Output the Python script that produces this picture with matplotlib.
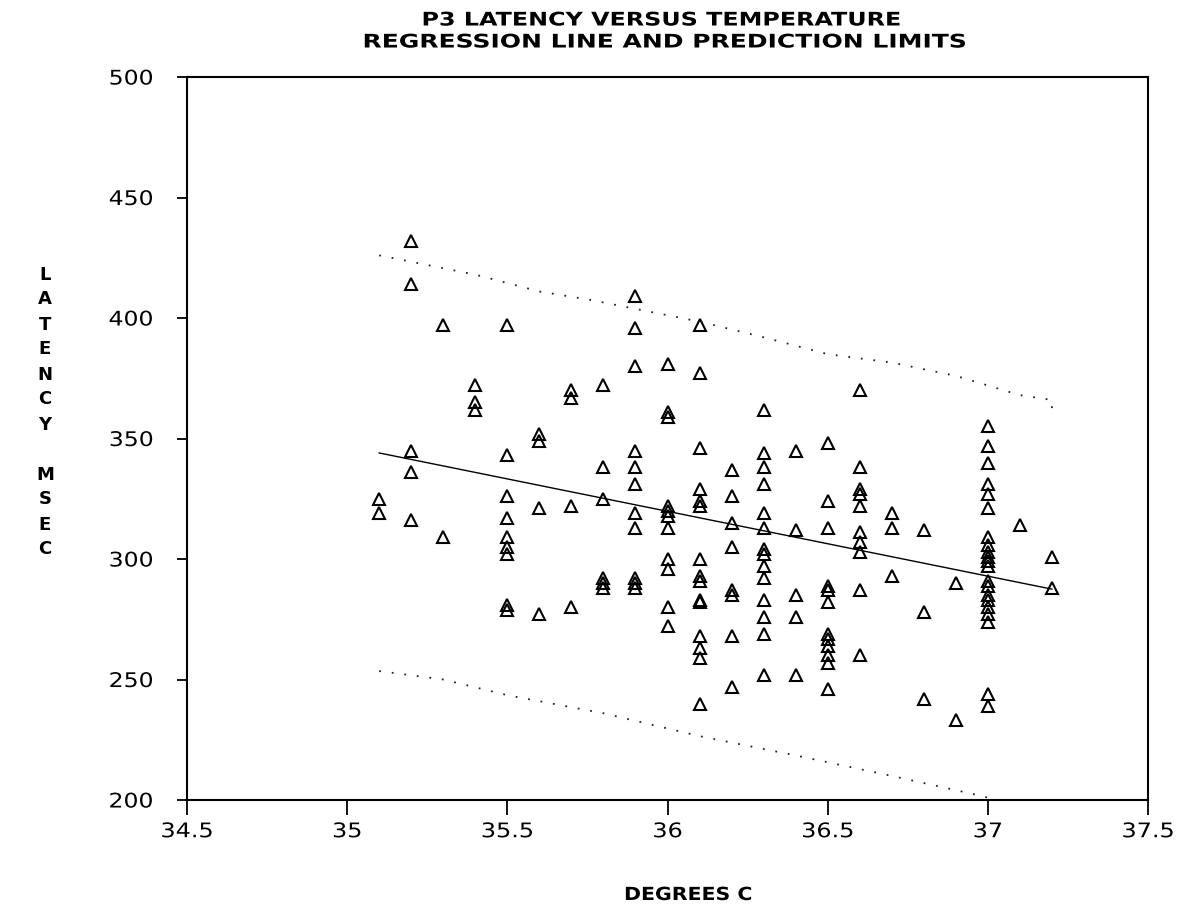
import matplotlib
matplotlib.use("Agg")
import matplotlib.pyplot as plt
from matplotlib.patheffects import AbstractPathEffect
from matplotlib.transforms import Affine2D

# ---- data ----
temps = [35.1, 35.2, 35.3, 35.4, 35.5, 35.6, 35.7, 35.8, 35.9, 36.0, 36.1, 36.2,
         36.3, 36.4, 36.5, 36.6, 36.7, 36.8, 36.9, 37.0, 37.1, 37.2]
latency_35_1 = [325, 319]
latency_35_2 = [432, 414, 345, 336, 316]
latency_35_3 = [397, 309]
latency_35_4 = [372, 365, 362]
latency_35_5 = [397, 343, 326, 317, 309, 305, 302, 281, 279]
latency_35_6 = [352, 349, 321, 277]
latency_35_7 = [370, 367, 322, 280]
latency_35_8 = [372, 338, 325, 292, 290, 288]
latency_35_9 = [409, 396, 380, 345, 338, 331, 319, 313, 292, 290, 288]
latency_36_0 = [381, 361, 359, 322, 320, 318, 313, 300, 296, 280, 272]
latency_36_1 = [397, 377, 346, 329, 324, 322, 300, 293, 291, 283, 282, 268, 263, 259, 240]
latency_36_2 = [337, 326, 315, 305, 287, 285, 268, 247]
latency_36_3 = [362, 344, 338, 331, 319, 313, 304, 302, 297, 292, 283, 276, 269, 252]
latency_36_4 = [345, 312, 285, 276, 252]
latency_36_5 = [348, 324, 313, 289, 287, 282, 269, 267, 264, 260, 257, 246]
latency_36_6 = [370, 338, 329, 327, 322, 311, 307, 303, 287, 260]
latency_36_7 = [319, 313, 293]
latency_36_8 = [312, 278, 242]
latency_36_9 = [290, 233]
latency_37_0 = [355, 347, 340, 331, 327, 321, 309, 306, 303, 301, 299, 297, 291,
                289, 285, 283, 280, 277, 274, 244, 239]
latency_37_1 = [314]
latency_37_2 = [301, 288]

groups = [latency_35_1, latency_35_2, latency_35_3, latency_35_4, latency_35_5,
          latency_35_6, latency_35_7, latency_35_8, latency_35_9, latency_36_0,
          latency_36_1, latency_36_2, latency_36_3, latency_36_4, latency_36_5,
          latency_36_6, latency_36_7, latency_36_8, latency_36_9, latency_37_0,
          latency_37_1, latency_37_2]

reg_x = [35.1, 37.2]
reg_y = [344, 287.5]

upper_x = [35.1, 35.4, 35.6, 35.76, 36.1, 36.3, 36.5, 36.7, 36.9, 37.1, 37.2, 37.2]
upper_y = [426, 418, 411, 407.5, 398.5, 392, 385, 381.5, 376, 368, 366, 361]

lower_x = [35.1, 35.3, 35.5, 35.8, 36.1, 36.4, 36.7, 36.97, 37.0]
lower_y = [253.5, 250, 243.5, 236, 226.5, 218.5, 210, 202, 201]

xticks = [34.5, 35, 35.5, 36, 36.5, 37, 37.5]
xtick_labels = ["34.5", "35", "35.5", "36", "36.5", "37", "37.5"]
yticks = [200, 250, 300, 350, 400, 450, 500]

title_lines = ["P3 LATENCY VERSUS TEMPERATURE", "REGRESSION LINE AND PREDICTION LIMITS"]
xlabel = "DEGREES C"
ylabel = "LATENCY MSEC"


class HStretch(AbstractPathEffect):
    """Widen the glyph outlines horizontally about a fixed display x."""
    def __init__(self, sx, cx):
        super().__init__()
        self.sx = sx
        self.cx = cx

    def draw_path(self, renderer, gc, tpath, affine, rgbFace=None):
        t = affine + Affine2D().translate(-self.cx, 0).scale(self.sx, 1).translate(self.cx, 0)
        renderer.draw_path(gc, tpath, t, rgbFace)


# ---- figure ----
plt.rcParams['font.family'] = ['DejaVu Sans']
W, H = 1188, 913
fig = plt.figure(figsize=(W / 100, H / 100), dpi=100)
ax = fig.add_axes([187 / W, 1 - 800 / H, (1148 - 187) / W, (800 - 77) / H])

xs, ys = [], []
for t, g in zip(temps, groups):
    xs.extend([t] * len(g))
    ys.extend(g)
ax.plot(xs, ys, linestyle='none', marker='^', markersize=8.5,
        markerfacecolor='none', markeredgecolor='black', markeredgewidth=1.5)

ax.plot(reg_x, reg_y, color='black', linewidth=1.0)
ax.plot(upper_x, upper_y, color='#222222', linewidth=1.3, linestyle=(0, (1, 6)))
ax.plot(lower_x, lower_y, color='#222222', linewidth=1.3, linestyle=(0, (1, 6)))

ax.set_xlim(34.5, 37.5)
ax.set_ylim(200, 500)
ax.set_xticks(xticks)
ax.set_xticklabels(xtick_labels)
ax.set_yticks(yticks)
ax.tick_params(axis='x', direction='out', length=11, width=1.3, pad=5, labelsize=14.5)
ax.tick_params(axis='y', direction='out', length=7, width=1.3, pad=17, labelsize=14.5)
for s in ax.spines.values():
    s.set_linewidth(1.5)
    s.set_color('black')

t1 = fig.text(661.5 / W, 1 - 20 / H, title_lines[0], ha='center', va='center',
              fontsize=13.5, fontweight='bold')
t2 = fig.text(665 / W, 1 - 42 / H, title_lines[1], ha='center', va='center',
              fontsize=13.5, fontweight='bold')
xl = fig.text(688 / W, 1 - 895 / H, xlabel, ha='center', va='center',
              fontsize=13, fontweight='bold')

stacked = "\n".join(list("LATENCY")) + "\n\n" + "\n".join(list("MSEC"))
fig.text(45 / W, 1 - 412 / H, stacked, ha='center', va='center', fontsize=13,
         fontweight='bold', linespacing=1.5, multialignment='center')

# widen text to the plotter lettering proportions
fig.canvas.draw()
renderer = fig.canvas.get_renderer()
for txt, target in [(t1, 480), (t2, 605), (xl, 128)]:
    bb = txt.get_window_extent(renderer)
    txt.set_path_effects([HStretch(target / bb.width, (bb.x0 + bb.x1) / 2)])

xlabs = ax.get_xticklabels()
bb_ref = xlabs[-1].get_window_extent(renderer)
sx_x = 53 / bb_ref.width
for lab in xlabs:
    bb = lab.get_window_extent(renderer)
    lab.set_path_effects([HStretch(sx_x, (bb.x0 + bb.x1) / 2)])

ylabs = ax.get_yticklabels()
bb_ref = ylabs[-1].get_window_extent(renderer)
sx_y = 45 / bb_ref.width
for lab in ylabs:
    bb = lab.get_window_extent(renderer)
    lab.set_path_effects([HStretch(sx_y, bb.x1)])

fig.savefig("out.png", dpi=100, facecolor='white')
